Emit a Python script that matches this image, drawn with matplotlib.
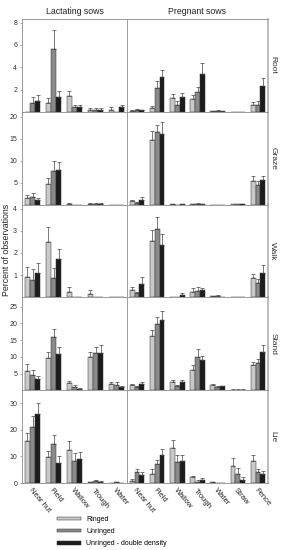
import matplotlib
matplotlib.use("Agg")
import matplotlib.pyplot as plt
import numpy as np
from matplotlib.patches import Patch

plt.rcParams['font.family'] = ['Liberation Sans', 'DejaVu Sans']

cats_lact = ["Near hut", "Field", "Wallow", "Trough", "Water"]
cats_preg = ["Near hut", "Field", "Wallow", "Trough", "Water", "Straw", "Fence"]
groups = ["Ringed", "Unringed", "Unringed - double density"]
behaviours = ["Root", "Graze", "Walk", "Stand", "Lie"]

# means per group (Ringed, Unringed, double density), and standard errors
root_lact = [[0, 0.75, 1.4, 0.2, 0.2], [0.8, 5.67, 0.42, 0.2, 0], [0.95, 1.3, 0.4, 0.2, 0.42]]
root_lact_se = [[0, 0.45, 0.5, 0.15, 0.25], [0.55, 1.65, 0.23, 0.15, 0], [0.6, 0.55, 0.23, 0.15, 0.23]]
root_preg = [[0.1, 0.3, 1.25, 1.15, 0.05, 0, 0.57], [0.2, 2.15, 0.63, 1.8, 0.1, 0, 0.6], [0.15, 3.13, 1.3, 3.43, 0.05, 0, 2.3]]
root_preg_se = [[0.05, 0.2, 0.35, 0.35, 0.03, 0, 0.33], [0.08, 0.65, 0.32, 0.4, 0.03, 0, 0.33], [0.05, 0.62, 0.35, 0.97, 0.03, 0, 0.75]]

graze_lact = [[1.4, 4.6, 0.2, 0.2, 0], [1.7, 7.7, 0, 0.2, 0], [1.15, 7.8, 0, 0.2, 0]]
graze_lact_se = [[0.8, 1.5, 0.1, 0.1, 0], [1.0, 2.1, 0, 0.1, 0], [0.35, 1.8, 0, 0.1, 0]]
graze_preg = [[0.75, 14.8, 0.1, 0.1, 0, 0.05, 5.4], [0.4, 16.5, 0, 0.2, 0, 0.05, 4.4], [1.15, 16.0, 0.1, 0.1, 0, 0.05, 5.5]]
graze_preg_se = [[0.35, 1.9, 0.05, 0.05, 0, 0, 1.0], [0.1, 1.5, 0, 0.1, 0, 0, 1.0], [0.55, 2.8, 0.05, 0.05, 0, 0, 1.0]]

walk_lact = [[0.94, 2.5, 0.23, 0.15, 0], [0.77, 0.88, 0, 0, 0], [1.09, 1.71, 0, 0, 0]]
walk_lact_se = [[0.42, 0.67, 0.22, 0.18, 0], [0.49, 0.44, 0, 0, 0], [0.47, 0.49, 0, 0, 0]]
walk_preg = [[0.33, 2.52, 0, 0.26, 0.05, 0, 0.86], [0.18, 3.09, 0, 0.3, 0.08, 0, 0.65], [0.6, 2.36, 0.12, 0.33, 0, 0, 1.08]]
walk_preg_se = [[0.12, 0.53, 0, 0.15, 0.03, 0, 0.19], [0.05, 0.53, 0, 0.15, 0.03, 0, 0.18], [0.3, 0.49, 0.08, 0.1, 0, 0, 0.39]]

stand_lact = [[5.9, 9.7, 2.25, 9.9, 1.8], [4.7, 15.8, 1.1, 11.2, 1.6], [3.4, 10.7, 0.5, 11.2, 0.9]]
stand_lact_se = [[1.9, 1.8, 0.65, 1.6, 0.7], [1.5, 2.6, 0.4, 1.8, 0.8], [0.8, 2.3, 0.3, 2.2, 0.4]]
stand_preg = [[1.5, 16.1, 2.5, 6.2, 1.5, 0.2, 7.4], [1.1, 19.9, 1.3, 9.9, 1.1, 0.2, 8.0], [2.0, 21.1, 2.5, 9.0, 1.2, 0.2, 11.5]]
stand_preg_se = [[0.5, 2.0, 0.5, 1.2, 0.3, 0.1, 0.9], [0.3, 1.9, 0.3, 2.3, 0.2, 0.1, 1.2], [0.4, 2.7, 0.5, 1.2, 0.2, 0.1, 1.9]]

lie_lact = [[15.7, 9.9, 12.6, 0.3, 0], [21.0, 14.8, 8.3, 0.7, 0.3], [26.0, 7.7, 9.0, 0.5, 0]]
lie_lact_se = [[3.2, 2.1, 3.1, 0.2, 0], [4.1, 3.3, 3.0, 0.3, 0.1], [4.0, 2.3, 2.8, 0.3, 0]]
lie_preg = [[0.9, 3.5, 13.2, 2.1, 0.3, 6.4, 8.3], [4.2, 7.3, 8.1, 0.3, 0.1, 3.4, 4.2], [2.9, 10.5, 8.3, 1.2, 0, 1.2, 3.5]]
lie_preg_se = [[0.7, 1.8, 3.2, 0.6, 0.2, 2.9, 2.2], [1.1, 1.4, 2.4, 0.8, 0, 2.3, 0.9], [1.3, 2.4, 2.3, 0.6, 0, 1.0, 1.2]]

rows = [
    (root_lact, root_lact_se, root_preg, root_preg_se, 8.33, [2, 4, 6, 8]),
    (graze_lact, graze_lact_se, graze_preg, graze_preg_se, 21.1, [5, 10, 15, 20]),
    (walk_lact, walk_lact_se, walk_preg, walk_preg_se, 4.18, [1, 2, 3, 4]),
    (stand_lact, stand_lact_se, stand_preg, stand_preg_se, 27.8, [5, 10, 15, 20, 25]),
    (lie_lact, lie_lact_se, lie_preg, lie_preg_se, 35, [0, 10, 20, 30]),
]

colors = ["#c9c9c9", "#8a8a8a", "#1c1c1c"]
spine_col = "#8c8c8c"
W, H = 281, 550
fig = plt.figure(figsize=(W / 100, H / 100), dpi=100)

x_left, x_mid, x_right = 22, 127, 268
y_top, y_bot = 19, 483
row_h = (y_bot - y_top) / 5
bw = 0.24


def draw(ax, means, ses, ncat):
    x = np.arange(ncat)
    for g in range(3):
        xs = x + (g - 1) * bw
        ax.bar(xs, means[g], width=bw, color=colors[g], edgecolor="#333333", linewidth=0.35, zorder=2)
        m = np.array(means[g])
        s = np.array(ses[g])
        keep = s > 0
        ax.errorbar(xs[keep], m[keep], yerr=[np.zeros(keep.sum()), s[keep]], fmt="none",
                    ecolor="#444444", elinewidth=0.5, capsize=1.2, capthick=0.5, zorder=3)
    ax.set_xlim(-0.5, ncat - 0.5)
    for sp in ax.spines.values():
        sp.set_color(spine_col)
        sp.set_linewidth(0.6)


for r, (ml, sl, mp, sp, ymax, ticks) in enumerate(rows):
    top = y_top + r * row_h
    b = 1 - (top + row_h) / H
    h = row_h / H
    axl = fig.add_axes([x_left / W, b, (x_mid - x_left) / W, h])
    axr = fig.add_axes([x_mid / W, b, (x_right - x_mid) / W, h])
    draw(axl, ml, sl, len(cats_lact))
    draw(axr, mp, sp, len(cats_preg))
    for ax in (axl, axr):
        ax.set_ylim(0, ymax)
    axl.set_yticks(ticks)
    axl.tick_params(axis="y", labelsize=5, length=1.5, width=0.5, color=spine_col, pad=2, labelcolor="#333333")
    axr.set_yticks([])
    axr.spines["right"].set_linewidth(1.2)
    axr.spines["right"].set_color("#b0b0b0")
    axr.text(1.035, 0.5, behaviours[r], transform=axr.transAxes, rotation=-90,
             ha="center", va="center", fontsize=6, color="#333333")
    if r < 4:
        axl.set_xticks([])
        axr.set_xticks([])
    else:
        axl.set_xticks(range(len(cats_lact)))
        axl.set_xticklabels(cats_lact)
        axr.set_xticks(range(len(cats_preg)))
        axr.set_xticklabels(cats_preg)
        for ax in (axl, axr):
            ax.tick_params(axis="x", length=0, pad=3, labelsize=5.5, labelcolor="#222222")
            for lab in ax.get_xticklabels():
                lab.set_rotation(-50)
                lab.set_ha("left")
                lab.set_va("top")
                lab.set_rotation_mode("anchor")

fig.text((x_left + x_mid) / 2 / W, 1 - 12 / H, "Lactating sows", ha="center", va="center", fontsize=6.3, color="#222222")
fig.text((x_mid + x_right) / 2 / W, 1 - 12 / H, "Pregnant sows", ha="center", va="center", fontsize=6.3, color="#222222")
fig.text(7 / W, 1 - 250 / H, "Percent of observations", rotation=90, ha="center", va="center", fontsize=6.3, color="#222222")

handles = [Patch(facecolor=c, edgecolor="#333333", linewidth=0.35) for c in colors]
fig.legend(handles, groups, loc="upper left", bbox_to_anchor=(57 / W, 1 - 516 / H), frameon=False,
           fontsize=5.0, handlelength=3.5, handleheight=0.35, labelspacing=0.75, handletextpad=0.7,
           borderpad=0, borderaxespad=0)

fig.savefig("out.png", dpi=100)
